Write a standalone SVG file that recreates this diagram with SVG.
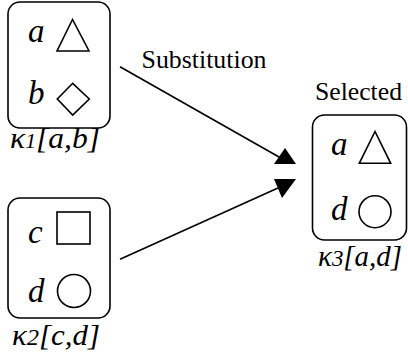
<svg xmlns="http://www.w3.org/2000/svg" width="408" height="362" viewBox="0 0 408 362">
<style>
.box{fill:none;stroke:#000;stroke-width:1.6}
.shape{fill:none;stroke:#000;stroke-width:1.6}
.conn{stroke:#000;stroke-width:1.6;fill:none}
.head{fill:#000;stroke:none}
text{font-family:'Times New Roman','Liberation Serif','DejaVu Serif',serif;fill:#000}
.v{font-style:italic;font-size:33px}
.l{font-style:italic;font-size:29px}
.t{font-size:25px}
</style>
<rect width="408" height="362" fill="#fff"/>
<g id="k1">
<rect class="box" x="8" y="2" width="102" height="126" rx="12"/>
<text class="v" x="28" y="42">a</text>
<polygon class="shape" points="72.5,19.5 57,51 89,51"/>
<text class="v" x="28" y="104">b</text>
<polygon class="shape" points="72.7,83.3 57.3,99 72.7,115 89.3,99"/>
<text class="l" x="10" y="148" textLength="90" lengthAdjust="spacingAndGlyphs">κ<tspan font-size="20">1</tspan>[a,b]</text>
</g>
<g id="k2">
<rect class="box" x="8" y="198" width="102" height="120" rx="12"/>
<text class="v" x="28" y="243">c</text>
<rect class="shape" x="57" y="212" width="33" height="32"/>
<text class="v" x="28" y="302">d</text>
<circle class="shape" cx="74" cy="291" r="16.5"/>
<text class="l" x="12" y="345" textLength="88" lengthAdjust="spacingAndGlyphs">κ<tspan font-size="23">2</tspan>[c,d]</text>
</g>
<g id="k3">
<rect class="box" x="312.5" y="115" width="94" height="125" rx="12"/>
<text class="v" x="331" y="155">a</text>
<polygon class="shape" points="375,131.5 359.3,163.3 390.7,163.3"/>
<text class="v" x="331" y="220">d</text>
<circle class="shape" cx="375" cy="211.7" r="16"/>
<text class="l" x="318" y="266" textLength="84" lengthAdjust="spacingAndGlyphs">κ<tspan font-size="23">3</tspan>[a,d]</text>
</g>
<g id="connectors">
<line class="conn" x1="120" y1="66.7" x2="279" y2="157"/>
<polygon class="head" points="285,148 274,164 296,164"/>
<line class="conn" x1="120" y1="259.3" x2="278" y2="188"/>
<polygon class="head" points="274,179 296,179 282,198"/>
<text class="t" x="141.5" y="68" textLength="125" lengthAdjust="spacingAndGlyphs">Substitution</text>
<text class="t" x="315" y="100" textLength="87" lengthAdjust="spacingAndGlyphs">Selected</text>
</g>
</svg>
